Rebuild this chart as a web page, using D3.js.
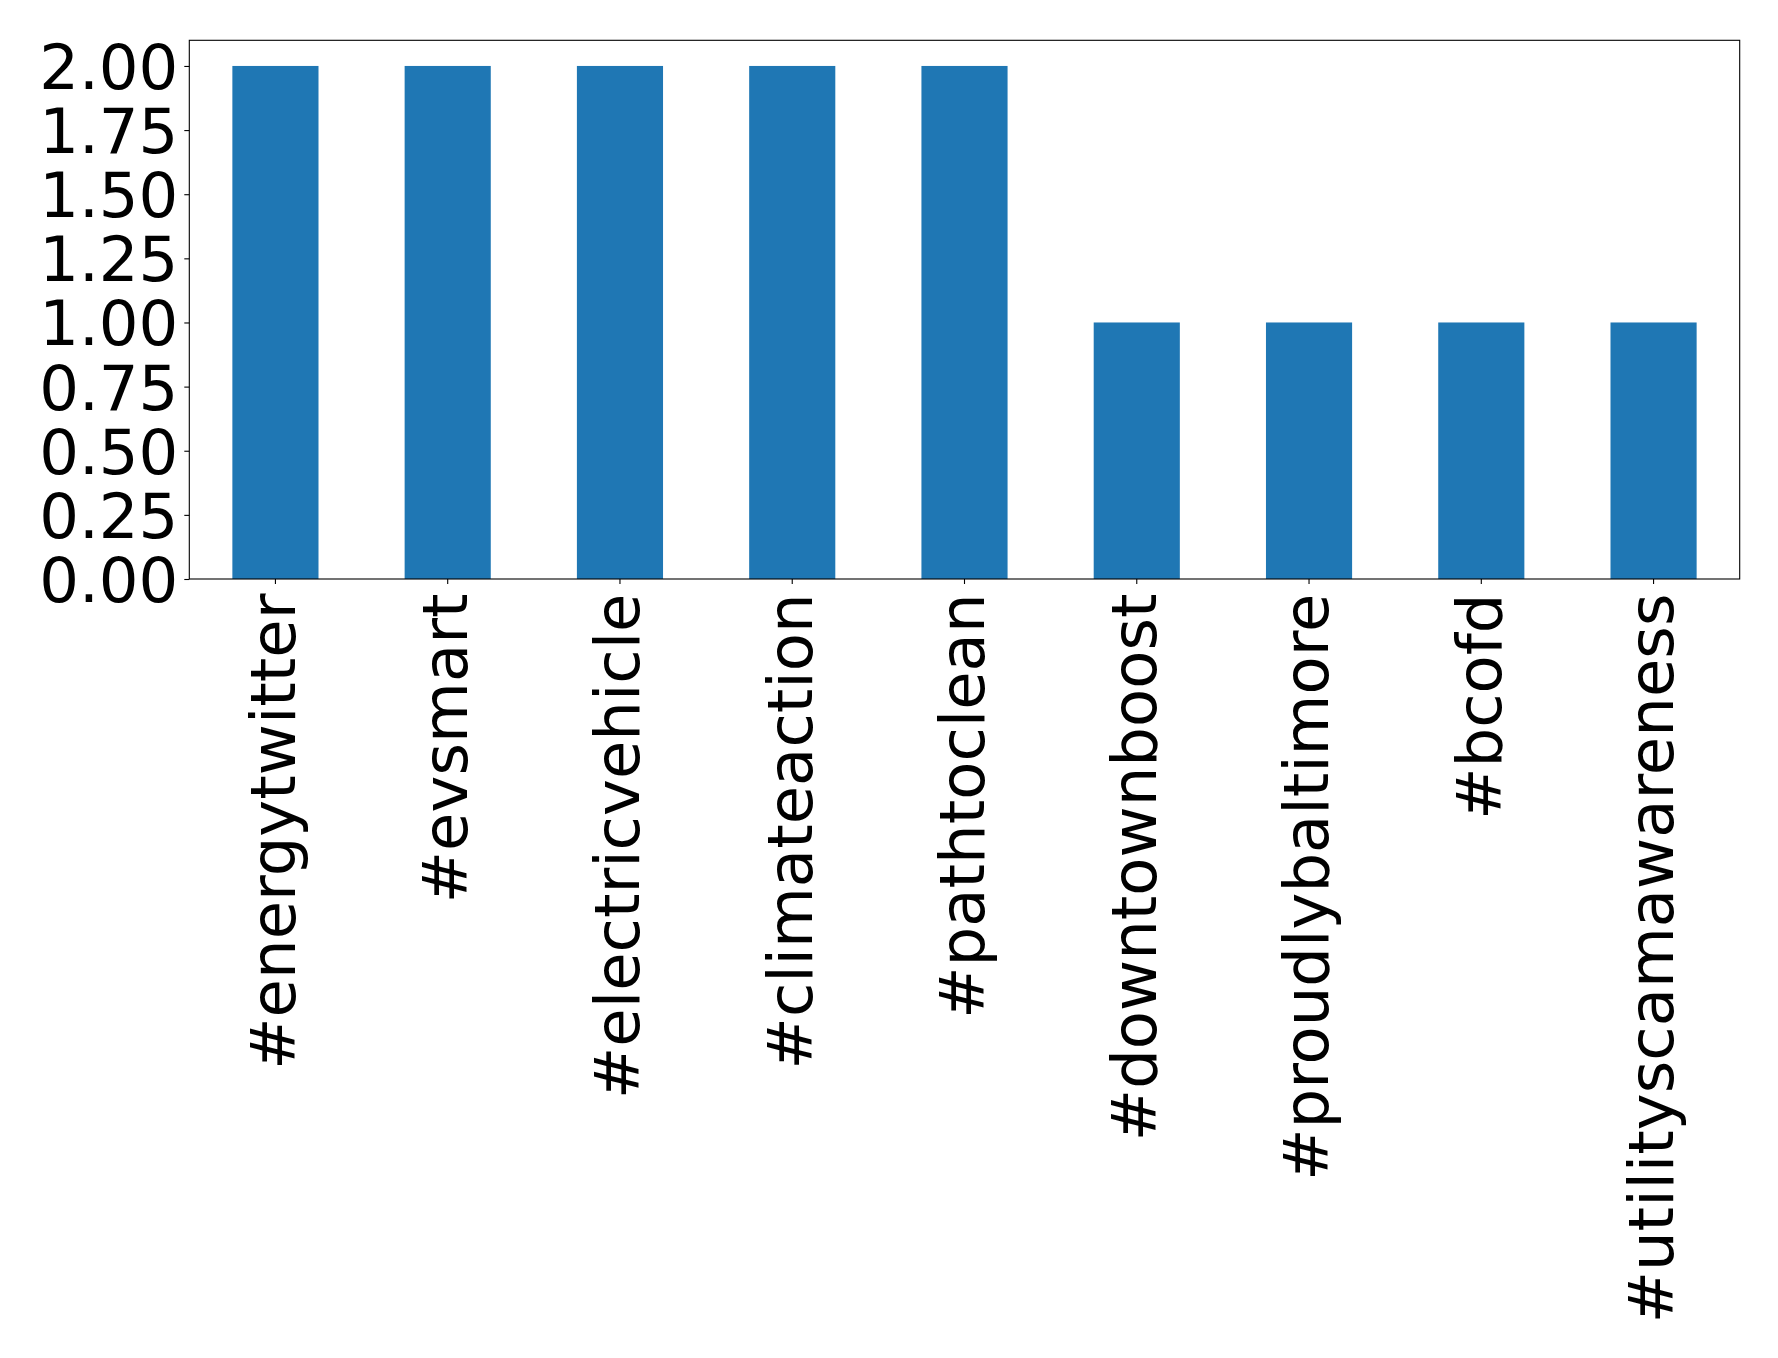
<!DOCTYPE html>
<html>
<head>
<meta charset="utf-8">
<script src="https://cdn.jsdelivr.net/npm/d3@7"></script>
<style>
  html, body { margin: 0; padding: 0; background: #ffffff; }
  svg { display: block; }
  text { font-family: "DejaVu Sans", sans-serif; fill: #000; }
</style>
</head>
<body>
<svg id="chart" width="1778" height="1358"></svg>
<script>
const categories = ["#energytwitter", "#evsmart", "#electricvehicle", "#climateaction", "#pathtoclean", "#downtownboost", "#proudlybaltimore", "#bcofd", "#utilityscamawareness"];
const counts = [2, 2, 2, 2, 2, 1, 1, 1, 1];
const yTicks = [0, 0.25, 0.5, 0.75, 1.0, 1.25, 1.5, 1.75, 2.0];

(function () {
const svg = d3.select("#chart");
const pLeft = 189.3, pRight = 1739.7, pTop = 40.3, pBottom = 579;
const fontSize = 62.5;

const x = d3.scaleBand().domain(categories).range([pLeft, pRight]).paddingInner(0.5).paddingOuter(0.25);
const y = d3.scaleLinear().domain([0, 2.1]).range([pBottom, pTop]);

// bars
svg.append("g").selectAll("rect").data(categories).join("rect")
  .attr("x", d => x(d))
  .attr("width", x.bandwidth())
  .attr("y", (d, i) => y(counts[i]))
  .attr("height", (d, i) => y(0) - y(counts[i]))
  .attr("fill", "#1f77b4");

// y axis
const yAxis = d3.axisLeft(y).tickValues(yTicks).tickFormat(d3.format(".2f")).tickSize(5).tickPadding(6);
const gy = svg.append("g").attr("transform", `translate(${pLeft},0)`).call(yAxis);
gy.select(".domain").remove();
gy.selectAll(".tick line").attr("stroke", "#000").attr("stroke-width", 1.1);
gy.selectAll(".tick text").attr("font-size", fontSize).attr("font-family", "DejaVu Sans").attr("dy", "0.36em").attr("fill", "#000");

// x axis
const xAxis = d3.axisBottom(x).tickSize(5).tickPadding(8);
const gx = svg.append("g").attr("transform", `translate(0,${pBottom})`).call(xAxis);
gx.select(".domain").remove();
gx.selectAll(".tick line").attr("stroke", "#000").attr("stroke-width", 1.1);
gx.selectAll(".tick text")
  .attr("font-size", fontSize).attr("font-family", "DejaVu Sans").attr("fill", "#000")
  .attr("text-anchor", "end")
  .attr("transform", "rotate(-90)")
  .attr("x", -14.5).attr("y", 0).attr("dy", "0.31em");

// frame
svg.append("rect").attr("x", pLeft).attr("y", pTop).attr("width", pRight - pLeft).attr("height", pBottom - pTop)
  .attr("fill", "none").attr("stroke", "#000").attr("stroke-width", 1.1);
})();
</script>
</body>
</html>
